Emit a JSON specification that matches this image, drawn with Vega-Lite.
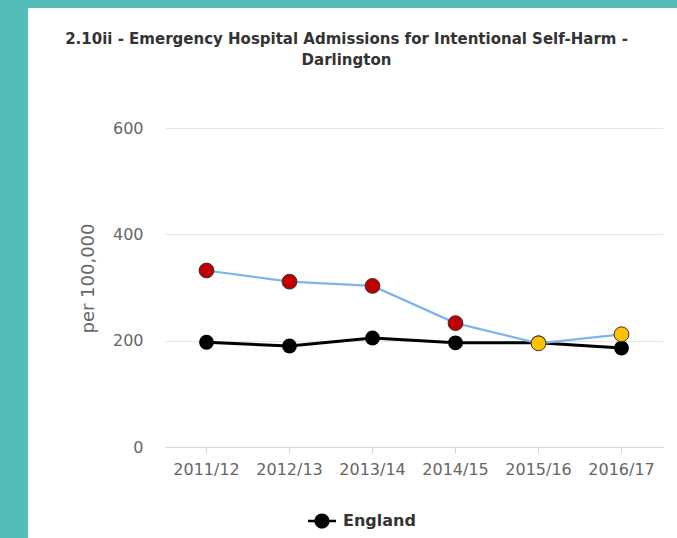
{
  "$schema": "https://vega.github.io/schema/vega-lite/v6.json",
  "width": 649,
  "height": 530,
  "autosize": {"type": "none"},
  "padding": {"left": 28, "top": 8, "right": 0, "bottom": 0},
  "background": "#55bdb8",
  "config": {"view": {"fill": "white", "stroke": null}, "font": "DejaVu Sans"},
  "title": {
    "text": ["2.10ii - Emergency Hospital Admissions for Intentional Self-Harm -", "Darlington"],
    "fontSize": 15,
    "fontWeight": "bold",
    "color": "#333333",
    "anchor": "middle",
    "frame": "group",
    "offset": -60,
    "baseline": "top",
    "lineHeight": 21,
    "dx": -6
  },
  "data": {
    "values": [
      {"year": "2011/12", "area": "Darlington", "value": 332, "sig": "Worse"},
      {"year": "2012/13", "area": "Darlington", "value": 311, "sig": "Worse"},
      {"year": "2013/14", "area": "Darlington", "value": 303, "sig": "Worse"},
      {"year": "2014/15", "area": "Darlington", "value": 233, "sig": "Worse"},
      {"year": "2015/16", "area": "Darlington", "value": 195, "sig": "Similar"},
      {"year": "2016/17", "area": "Darlington", "value": 212, "sig": "Similar"},
      {"year": "2011/12", "area": "England", "value": 197},
      {"year": "2012/13", "area": "England", "value": 190},
      {"year": "2013/14", "area": "England", "value": 205},
      {"year": "2014/15", "area": "England", "value": 196},
      {"year": "2015/16", "area": "England", "value": 196},
      {"year": "2016/17", "area": "England", "value": 186}
    ]
  },
  "encoding": {
    "x": {
      "field": "year",
      "type": "ordinal",
      "scale": {"type": "band", "range": [137, 635], "paddingInner": 0, "paddingOuter": 0},
      "axis": {
        "title": null,
        "offset": -91,
        "labelAngle": 0,
        "labelFontSize": 16,
        "labelColor": "#666666",
        "labelPadding": 8,
        "tickSize": 6,
        "tickColor": "#ccd6eb",
        "domainColor": "#ccd6eb",
        "grid": false
      }
    },
    "y": {
      "field": "value",
      "type": "quantitative",
      "scale": {"domain": [0, 600], "range": [439, 120], "nice": false},
      "axis": {
        "values": [0, 200, 400, 600],
        "title": "per 100,000",
        "offset": -137,
        "domain": false,
        "ticks": false,
        "grid": true,
        "gridColor": "#e6e6e6",
        "labelPadding": 22,
        "labelFontSize": 16,
        "labelColor": "#666666",
        "titleFontSize": 18,
        "titleFontWeight": "normal",
        "titleColor": "#666666",
        "titleX": -77,
        "titleY": 270,
        "titleAngle": -90,
        "titleAlign": "center",
        "titleBaseline": "middle"
      }
    }
  },
  "layer": [
    {
      "transform": [{"filter": "datum.area === 'England'"}],
      "mark": {"type": "line", "color": "black", "strokeWidth": 3}
    },
    {
      "transform": [{"filter": "datum.area === 'England'"}],
      "mark": {"type": "circle", "size": 220, "opacity": 1},
      "encoding": {
        "color": {
          "field": "area",
          "type": "nominal",
          "scale": {"domain": ["England"], "range": ["black"]},
          "legend": {
            "orient": "none",
            "legendX": 280,
            "legendY": 499,
            "title": null,
            "symbolType": "M-1,-0.09L1,-0.09L1,0.09L-1,0.09Z M-0.54,0A0.54,0.54 0 1,1 0.54,0A0.54,0.54 0 1,1 -0.54,0Z",
            "symbolSize": 784,
            "symbolStrokeWidth": 0,
            "symbolFillColor": "black",
            "labelFontSize": 16,
            "labelFontWeight": "bold",
            "labelColor": "#333333",
            "labelOffset": 7,
            "padding": 0
          }
        }
      }
    },
    {
      "transform": [{"filter": "datum.area === 'Darlington'"}],
      "mark": {"type": "line", "color": "#7cb5ec", "strokeWidth": 2.2}
    },
    {
      "transform": [{"filter": "datum.area === 'Darlington'"}],
      "mark": {"type": "circle", "size": 220, "opacity": 1, "stroke": "#333333", "strokeWidth": 1},
      "encoding": {
        "fill": {
          "field": "sig",
          "type": "nominal",
          "scale": {"domain": ["Worse", "Similar"], "range": ["#c00000", "#ffc000"]},
          "legend": null
        }
      }
    }
  ]
}
